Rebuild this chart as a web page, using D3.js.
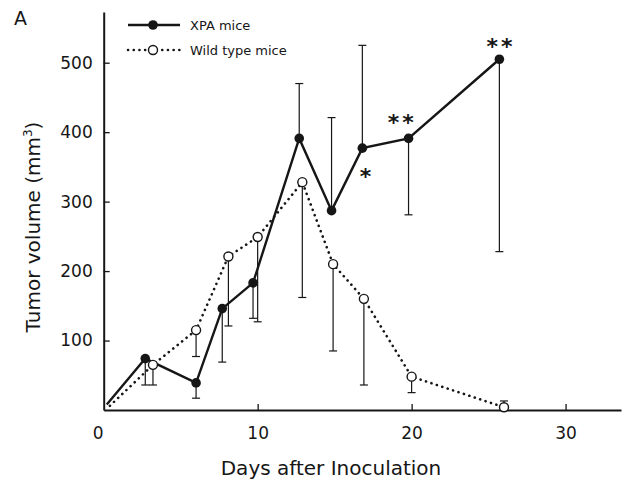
<!DOCTYPE html>
<html>
<head>
<meta charset="utf-8">
<script src="https://cdn.jsdelivr.net/npm/d3@7"></script>
<style>
  body { margin: 0; background: #fff; }
  svg { display: block; font-family: "DejaVu Sans", sans-serif; }
</style>
</head>
<body>
<svg id="chart" width="627" height="482"></svg>
<script>
// tumor volume after inoculation
const xpaDays = [0.2, 2.7, 6, 7.7, 9.7, 12.7, 14.8, 16.8, 19.8, 25.7];
const xpaVol  = [8, 74, 39, 146, 183, 391, 287, 377, 391, 505];
const xpaErr  = [null, 36, 17, 69, 132, 470, 421, 525, 281, 228];

const wtDays = [0.4, 3.2, 6, 8.1, 10, 12.9, 14.9, 16.9, 20, 26];
const wtVol  = [6, 65, 115, 221, 249, 328, 210, 160, 48, 4];
const wtErr  = [null, 36, 77, 121, 127, 162, 85, 36, 25, 13];

// significance marks
const starDays  = [17.1, 19.4, 25.8];
const starVol   = [343, 420, 530];
const starLabel = ['*', '**', '**'];

const xTicks = [0, 10, 20, 30];
const yTicks = [100, 200, 300, 400, 500];

const ink = '#161616';
const svg = d3.select('#chart');

const x = d3.scaleLinear().domain([0, 33.6]).range([103.7, 621]);
const y = d3.scaleLinear().domain([0, 573]).range([410, 12]);

// axes (ticks pointing inward)
svg.append('g')
  .attr('transform', `translate(0,${y(0)})`)
  .call(d3.axisBottom(x).tickValues(xTicks).tickSize(-6).tickSizeOuter(0).tickPadding(17))
  .call(g => g.select('.domain').attr('stroke', ink).attr('stroke-width', 2))
  .call(g => g.selectAll('.tick line').attr('stroke', ink).attr('stroke-width', 1.3))
  .call(g => g.selectAll('.tick text').attr('fill', ink).attr('font-size', 17)
    .attr('font-family', '"DejaVu Sans", sans-serif'))
  .call(g => g.selectAll('.tick').filter(d => d === 0).select('line').remove())
  .call(g => g.selectAll('.tick').filter(d => d === 0).select('text').attr('dx', -6));

svg.append('g')
  .attr('transform', `translate(${x(0)},0)`)
  .call(d3.axisLeft(y).tickValues(yTicks).tickSize(-6).tickSizeOuter(0).tickPadding(11))
  .call(g => g.select('.domain').attr('stroke', ink).attr('stroke-width', 2))
  .call(g => g.selectAll('.tick line').attr('stroke', ink).attr('stroke-width', 1.3))
  .call(g => g.selectAll('.tick text').attr('fill', ink).attr('font-size', 17)
    .attr('font-family', '"DejaVu Sans", sans-serif'));

// axis titles
svg.append('text')
  .attr('x', 331).attr('y', 475)
  .attr('text-anchor', 'middle')
  .attr('font-size', 20).attr('fill', ink)
  .text('Days after Inoculation');

const yt = svg.append('text')
  .attr('transform', 'translate(40,227) rotate(-90)')
  .attr('text-anchor', 'middle')
  .attr('font-size', 20).attr('fill', ink);
yt.append('tspan').text('Tumor volume (mm');
yt.append('tspan').attr('font-size', 12).attr('dy', -8).text('3');
yt.append('tspan').attr('dy', 8).text(')');

svg.append('text')
  .attr('x', 14).attr('y', 25)
  .attr('font-size', 19).attr('fill', ink)
  .text('A');

const xpa = xpaDays.map((d, i) => ({ day: d, vol: xpaVol[i], err: xpaErr[i] }));
const wt = wtDays.map((d, i) => ({ day: d, vol: wtVol[i], err: wtErr[i] }));

// error bars
function errorBars(data) {
  const g = svg.append('g').attr('stroke', ink).attr('stroke-width', 1.2);
  const pts = data.filter(d => d.err !== null);
  g.selectAll('line.bar').data(pts).join('line')
    .attr('x1', d => x(d.day)).attr('x2', d => x(d.day))
    .attr('y1', d => y(d.vol)).attr('y2', d => y(d.err));
  g.selectAll('line.cap').data(pts).join('line')
    .attr('x1', d => x(d.day) - 4).attr('x2', d => x(d.day) + 4)
    .attr('y1', d => y(d.err)).attr('y2', d => y(d.err));
}
errorBars(xpa);
errorBars(wt);

const line = d3.line().x(d => x(d.day)).y(d => y(d.vol));

svg.append('path')
  .datum(wt)
  .attr('fill', 'none')
  .attr('stroke', ink)
  .attr('stroke-width', 2.6)
  .attr('stroke-dasharray', '0.1 5.6')
  .attr('stroke-linecap', 'round')
  .attr('d', line);

svg.append('path')
  .datum(xpa)
  .attr('fill', 'none')
  .attr('stroke', ink)
  .attr('stroke-width', 2.4)
  .attr('d', line);

svg.append('g')
  .selectAll('circle')
  .data(wt.slice(1))
  .join('circle')
    .attr('cx', d => x(d.day)).attr('cy', d => y(d.vol))
    .attr('r', 4.5)
    .attr('fill', '#fff')
    .attr('stroke', ink)
    .attr('stroke-width', 1.4);

svg.append('g')
  .selectAll('circle')
  .data(xpa.slice(1))
  .join('circle')
    .attr('cx', d => x(d.day)).attr('cy', d => y(d.vol))
    .attr('r', 4.8)
    .attr('fill', ink);

// stars
svg.append('g')
  .selectAll('text')
  .data(starDays)
  .join('text')
    .attr('x', d => x(d))
    .attr('y', (d, i) => y(starVol[i]) + 12)
    .attr('text-anchor', 'middle')
    .attr('font-size', 22)
    .attr('font-weight', 'bold')
    .attr('letter-spacing', 3)
    .attr('fill', ink)
    .text((d, i) => starLabel[i]);

// legend
const legend = svg.append('g');
legend.append('line')
  .attr('x1', 128).attr('x2', 180).attr('y1', 25).attr('y2', 25)
  .attr('stroke', ink).attr('stroke-width', 2.4);
legend.append('circle').attr('cx', 153).attr('cy', 25).attr('r', 4.8).attr('fill', ink);
legend.append('text').attr('x', 190).attr('y', 25).attr('dy', '0.35em')
  .attr('font-size', 13).attr('fill', ink).text('XPA mice');

legend.append('line')
  .attr('x1', 128).attr('x2', 180).attr('y1', 50).attr('y2', 50)
  .attr('stroke', ink).attr('stroke-width', 2.6)
  .attr('stroke-dasharray', '0.1 5.6').attr('stroke-linecap', 'round');
legend.append('circle').attr('cx', 153).attr('cy', 50).attr('r', 4.5)
  .attr('fill', '#fff').attr('stroke', ink).attr('stroke-width', 1.4);
legend.append('text').attr('x', 190).attr('y', 50).attr('dy', '0.35em')
  .attr('font-size', 13).attr('fill', ink).text('Wild type mice');
</script>
</body>
</html>
